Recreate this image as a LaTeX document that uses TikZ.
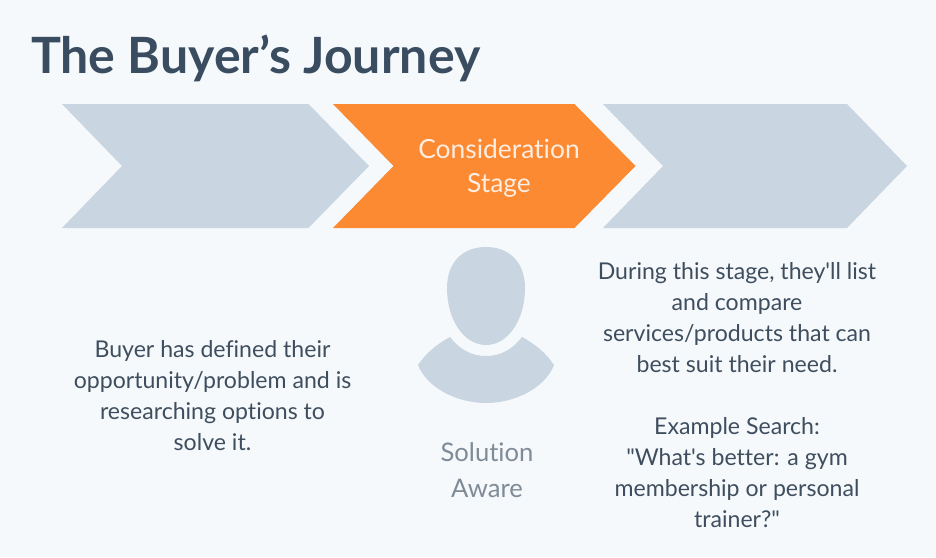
\documentclass[tikz,border=0pt]{standalone}
\usepackage{fontspec}
\setmainfont{Lato}
\newfontfamily\plainf[Ligatures=NoCommon]{Lato}
\definecolor{bgc}{HTML}{F5F9FC}
\definecolor{greyc}{HTML}{C9D5E0}
\definecolor{orangec}{HTML}{FB8A33}
\definecolor{inkc}{HTML}{3F4E5E}
\definecolor{softc}{HTML}{7F8B96}
\definecolor{titlec}{HTML}{3A4D60}
\tikzset{
  chevgrey/.style={fill=greyc,draw=none},
  chevorange/.style={fill=orangec,draw=none},
  bodytext/.style={text=inkc,align=center,inner sep=0pt,font=\plainf\fontsize{23.1}{31}\selectfont},
  softtext/.style={text=softc,align=center,inner sep=0pt,font=\plainf\fontsize{25.6}{36}\selectfont},
  onorange/.style={text=white!85!orangec,align=center,inner sep=0pt,font=\plainf\fontsize{26.4}{34}\selectfont},
  titletext/.style={text=titlec,inner sep=0pt,anchor=west,font=\fontsize{50}{60}\selectfont\bfseries}
}
\begin{document}
\begin{tikzpicture}[x=1pt,y=-1pt]
\useasboundingbox (0,0) rectangle (936,557);
\fill[bgc] (0,0) rectangle (936,557);
\node[titletext] (title) at (31,58) {The Buyer’s Journey};
\fill[chevgrey] (62,104) -- (308.5,104) -- (369,166) -- (308.5,228) -- (62,228) -- (122,166) -- cycle;
\fill[chevorange] (333,104) -- (574.5,104) -- (635.5,166) -- (574.5,228) -- (333,228) -- (393.5,166) -- cycle;
\fill[chevgrey] (603,104) -- (847,104) -- (907,166) -- (847,228) -- (603,228) -- (663,166) -- cycle;
\node[onorange] (stage) at (499,168) {Consideration\\Stage};
% person
\fill[greyc] (486,247) .. controls (510,247) and (525,263) .. (525,288)
  .. controls (525,320) and (508,345) .. (486,345)
  .. controls (464,345) and (447,320) .. (447,288)
  .. controls (447,263) and (462,247) .. (486,247) -- cycle;
\fill[greyc] (450,337) .. controls (460,350) and (472,356) .. (486,356)
  .. controls (500,356) and (512,350) .. (522,337)
  .. controls (535,344) and (546,353) .. (554,365)
  .. controls (545,388) and (515,403) .. (486,403)
  .. controls (457,403) and (427,388) .. (418,365)
  .. controls (426,353) and (437,344) .. (450,337) -- cycle;
\node[softtext] (aware) at (487,470.5) {Solution\\Aware};
\node[bodytext] (left) at (212.5,396) {Buyer has defined their\\opportunity/problem and is\\researching options to\\solve it.};
\node[bodytext] (right) at (737,395.5) {During this stage, they'll list\\and compare\\services/products that can\\best suit their need.\\[31pt]Example Search:\\"What's better: a gym\\membership or personal\\trainer?"};
\end{tikzpicture}
\end{document}
